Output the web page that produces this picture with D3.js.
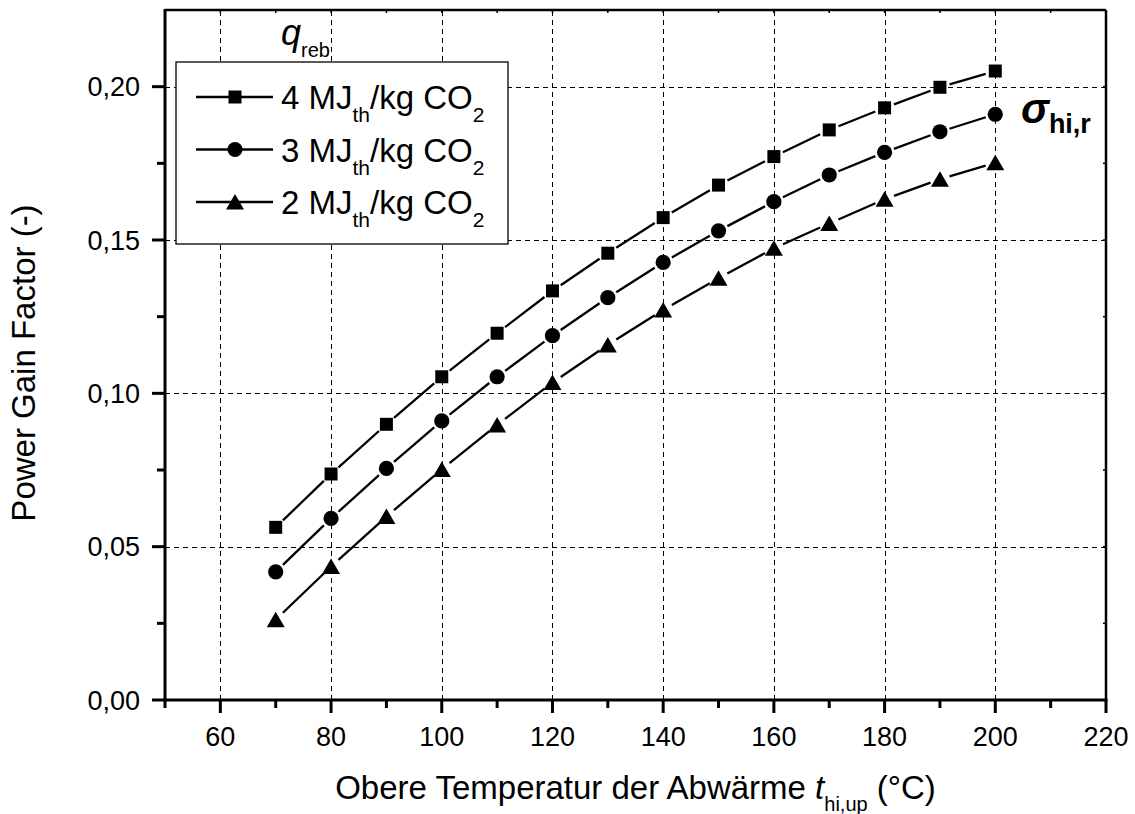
<!DOCTYPE html>
<html>
<head>
<meta charset="utf-8">
<script src="https://cdn.jsdelivr.net/npm/d3@7"></script>
<style>
  body { margin: 0; background: #fff; }
  svg text { font-family: Arial, "Liberation Sans", sans-serif; fill: #000; }
</style>
</head>
<body>
<svg id="chart" width="1135" height="814"></svg>
<script>
// temperatures (°C) and power gain factor per reboiler duty
var temps = [70, 80, 90, 100, 110, 120, 130, 140, 150, 160, 170, 180, 190, 200];
var pgf4 = [0.0563, 0.0737, 0.0899, 0.1054, 0.1196, 0.1334, 0.1457, 0.1573, 0.1679, 0.1772, 0.1859, 0.1931, 0.1998, 0.2051];
var pgf3 = [0.0418, 0.0592, 0.0755, 0.0910, 0.1054, 0.1188, 0.1312, 0.1427, 0.1530, 0.1625, 0.1712, 0.1786, 0.1853, 0.1910];
var pgf2 = [0.0262, 0.0435, 0.0598, 0.0752, 0.0897, 0.1035, 0.1158, 0.1272, 0.1375, 0.1473, 0.1554, 0.1633, 0.1698, 0.1752];
var seriesLabels = ['4', '3', '2'];
var seriesShapes = ['square', 'circle', 'triangle'];

var xMajor = [60, 80, 100, 120, 140, 160, 180, 200, 220];
var xMinor = [50, 70, 90, 110, 130, 150, 170, 190, 210];
var yMajor = [0, 0.05, 0.10, 0.15, 0.20];
var yMinor = [0.025, 0.075, 0.125, 0.175, 0.225];

var series = [pgf4, pgf3, pgf2].map(function (vals, i) {
    return {
        label: seriesLabels[i],
        shape: seriesShapes[i],
        points: temps.map(function (t, j) { return {x: t, y: vals[j]}; })
    };
});

var svg = d3.select('#chart');
var x = d3.scaleLinear().domain([50, 220]).range([165, 1106]);
var y = d3.scaleLinear().domain([0, 0.225]).range([700, 10]);
var fmt = function (v) { return d3.format('.2f')(v).replace('.', ','); };

// grid
var grid = svg.append('g').attr('stroke', '#000').attr('stroke-width', 1)
    .attr('stroke-dasharray', '5,4').attr('fill', 'none');
grid.selectAll('.gx').data(xMajor.filter(function (d) { return d < 220; }))
    .enter().append('line')
    .attr('x1', function (d) { return Math.round(x(d)) + 0.5; })
    .attr('x2', function (d) { return Math.round(x(d)) + 0.5; })
    .attr('y1', y(0)).attr('y2', y(0.225));
grid.selectAll('.gy').data(yMajor.filter(function (d) { return d > 0; }))
    .enter().append('line')
    .attr('y1', function (d) { return Math.round(y(d)) + 0.5; })
    .attr('y2', function (d) { return Math.round(y(d)) + 0.5; })
    .attr('x1', x(50)).attr('x2', x(220));

// marker shapes
function marker(sel, shape) {
    if (shape === 'square') {
        sel.append('path').attr('d', d3.symbol(d3.symbolSquare, 169)());
    } else if (shape === 'circle') {
        sel.append('path').attr('d', d3.symbol(d3.symbolCircle, Math.PI * 7.6 * 7.6)());
    } else {
        sel.append('path').attr('d', 'M0,-8L9,7.5L-9,7.5Z');
    }
}

// lines with gaps around the markers
var gap = 10;
var plot = svg.append('g');
series.forEach(function (s) {
    var g = plot.append('g');
    d3.pairs(s.points).forEach(function (p) {
        var x1 = x(p[0].x), y1 = y(p[0].y), x2 = x(p[1].x), y2 = y(p[1].y);
        var len = Math.hypot(x2 - x1, y2 - y1);
        var ux = (x2 - x1) / len, uy = (y2 - y1) / len;
        g.append('line')
            .attr('x1', x1 + ux * gap).attr('y1', y1 + uy * gap)
            .attr('x2', x2 - ux * gap).attr('y2', y2 - uy * gap)
            .attr('stroke', '#000').attr('stroke-width', 2.3);
    });
    g.selectAll('.m').data(s.points).enter().append('g')
        .attr('transform', function (d) { return 'translate(' + x(d.x) + ',' + y(d.y) + ')'; })
        .each(function () { marker(d3.select(this), s.shape); });
});

// axes frame
var ax = svg.append('g').attr('stroke', '#000');
ax.append('line').attr('x1', x(50)).attr('x2', x(220)).attr('y1', y(0.225)).attr('y2', y(0.225)).attr('stroke-width', 2.5);
ax.append('line').attr('x1', x(220)).attr('x2', x(220)).attr('y1', y(0)).attr('y2', y(0.225)).attr('stroke-width', 2.5);
ax.append('line').attr('x1', x(50) - 1.5).attr('x2', x(220) + 1.5).attr('y1', y(0)).attr('y2', y(0)).attr('stroke-width', 3);
ax.append('line').attr('x1', x(50)).attr('x2', x(50)).attr('y1', y(0) + 1.5).attr('y2', y(0.225) - 1).attr('stroke-width', 3);

// outer ticks on bottom / left
ax.selectAll('.xt').data(xMajor).enter().append('line')
    .attr('x1', function (d) { return x(d); }).attr('x2', function (d) { return x(d); })
    .attr('y1', y(0)).attr('y2', y(0) + 13).attr('stroke-width', 3);
ax.selectAll('.xm').data(xMinor).enter().append('line')
    .attr('x1', function (d) { return x(d); }).attr('x2', function (d) { return x(d); })
    .attr('y1', y(0)).attr('y2', y(0) + 8).attr('stroke-width', 3);
ax.selectAll('.yt').data(yMajor).enter().append('line')
    .attr('y1', function (d) { return y(d); }).attr('y2', function (d) { return y(d); })
    .attr('x1', x(50)).attr('x2', x(50) - 13).attr('stroke-width', 3);
ax.selectAll('.ym').data(yMinor.filter(function (d) { return d < 0.225; })).enter().append('line')
    .attr('y1', function (d) { return y(d); }).attr('y2', function (d) { return y(d); })
    .attr('x1', x(50)).attr('x2', x(50) - 8).attr('stroke-width', 3);

// small inner ticks on top / right
ax.selectAll('.tt').data(xMajor.concat(xMinor)).enter().append('line')
    .attr('x1', function (d) { return x(d); }).attr('x2', function (d) { return x(d); })
    .attr('y1', y(0.225)).attr('y2', y(0.225) + 3).attr('stroke-width', 1.5);
ax.selectAll('.rt').data(yMajor.concat(yMinor)).enter().append('line')
    .attr('y1', function (d) { return y(d); }).attr('y2', function (d) { return y(d); })
    .attr('x1', x(220)).attr('x2', x(220) - 3).attr('stroke-width', 1.5);

// tick labels
svg.append('g').selectAll('text').data(xMajor).enter().append('text')
    .attr('x', function (d) { return x(d); }).attr('y', 746)
    .attr('text-anchor', 'middle').attr('font-size', 27)
    .text(function (d) { return d; });
svg.append('g').selectAll('text').data(yMajor).enter().append('text')
    .attr('x', 140).attr('y', function (d) { return y(d) + 9.5; })
    .attr('text-anchor', 'end').attr('font-size', 27)
    .text(fmt);

// axis titles
var xt = svg.append('text').attr('x', (x(50) + x(220)) / 2).attr('y', 799)
    .attr('text-anchor', 'middle').attr('font-size', 33);
xt.append('tspan').text('Obere Temperatur der Abwärme ');
xt.append('tspan').attr('font-style', 'italic').text('t');
xt.append('tspan').attr('font-size', 20).attr('dy', 12).text('hi,up');
xt.append('tspan').attr('dy', -12).text(' (°C)');

svg.append('text').attr('transform', 'translate(35,' + 363 + ') rotate(-90)')
    .attr('text-anchor', 'middle').attr('font-size', 33)
    .text('Power Gain Factor (-)');

// legend
var lg = svg.append('g');
lg.append('rect').attr('x', 176).attr('y', 62).attr('width', 332).attr('height', 182)
    .attr('fill', '#fff').attr('stroke', '#000').attr('stroke-width', 1.3);
var qt = svg.append('text').attr('x', 281).attr('y', 45).attr('font-size', 36);
qt.append('tspan').attr('font-style', 'italic').text('q');
qt.append('tspan').attr('font-size', 20).attr('dy', 12).text('reb');

series.forEach(function (s, i) {
    var cy = 97 + i * 52.5;
    var row = lg.append('g');
    row.append('line').attr('x1', 196).attr('x2', 273).attr('y1', cy).attr('y2', cy)
        .attr('stroke', '#000').attr('stroke-width', 2.3);
    marker(row.append('g').attr('transform', 'translate(235,' + cy + ')'), s.shape);
    var t = row.append('text').attr('x', 281).attr('y', cy + 12).attr('font-size', 33);
    t.append('tspan').text(s.label + ' MJ');
    t.append('tspan').attr('font-size', 21).attr('dy', 13).text('th');
    t.append('tspan').attr('dy', -13).text('/kg CO');
    t.append('tspan').attr('font-size', 21).attr('dy', 13).text('2');
});

// series annotation
var sg = svg.append('text').attr('x', 1021).attr('y', 123).attr('font-weight', 'bold');
sg.append('tspan').attr('font-style', 'italic').attr('font-size', 42).text('σ');
sg.append('tspan').attr('font-size', 27).attr('dy', 10).text('hi,r');
</script>
</body>
</html>
